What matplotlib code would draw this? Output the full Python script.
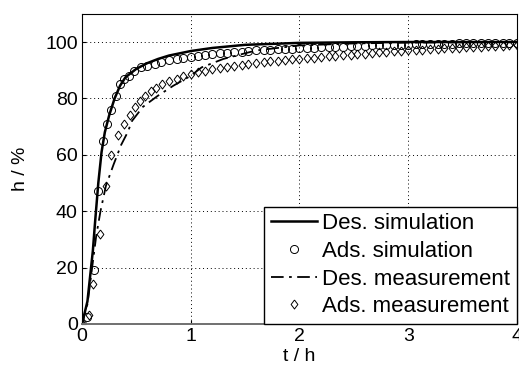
import matplotlib.pyplot as plt

plt.rcParams['font.family'] = ['Liberation Sans', 'DejaVu Sans']

# Des. simulation (line)
t_des_sim = [0, 0.05, 0.1, 0.12, 0.15, 0.18, 0.21, 0.25, 0.3, 0.35, 0.4, 0.5, 0.6, 0.7,
             0.8, 1.0, 1.2, 1.5, 2.0, 2.5, 3.0, 3.5, 4.0]
h_des_sim = [0, 8, 26, 36, 50, 61, 68, 74, 80, 84.5, 87.5, 90.5, 92.5, 94,
             95.2, 96.8, 97.9, 99.0, 99.7, 99.9, 100, 100, 100]

# Des. measurement (dash-dot line)
t_des_meas = [0, 0.05, 0.1, 0.13, 0.17, 0.22, 0.29, 0.36, 0.42, 0.46, 0.56, 0.7, 0.84,
              1.0, 1.1, 1.3, 1.6, 2.0, 2.5, 3.0, 4.0]
h_des_meas = [0, 7, 22, 31, 40, 49, 56.5, 63.5, 68, 72, 77, 81, 84.5,
              88, 91, 94, 97, 98.8, 99.5, 99.8, 100]

# Ads. simulation (circles)
t_ads_sim = [0, 0.05, 0.11, 0.15, 0.19, 0.23, 0.27, 0.31, 0.35, 0.39, 0.43, 0.48, 0.54,
             0.60, 0.67, 0.73, 0.80, 0.87, 0.93, 1.00, 1.07, 1.13, 1.20, 1.27, 1.33,
             1.40, 1.47, 1.53, 1.60, 1.67, 1.73, 1.80, 1.87, 1.93, 2.00, 2.07, 2.13,
             2.20, 2.27, 2.33, 2.40, 2.47, 2.53, 2.60, 2.67, 2.73, 2.80, 2.87, 2.93,
             3.00, 3.07, 3.13, 3.20, 3.27, 3.33, 3.40, 3.47, 3.53, 3.60, 3.67, 3.73,
             3.80, 3.87, 3.93, 4.00]
h_ads_sim = [0, 2.5, 19, 47, 65, 71, 76, 81, 85, 87, 88, 89.8, 91,
             91.5, 92.3, 93, 93.5, 94, 94.4, 94.8, 95.1, 95.4, 95.7, 96, 96.2,
             96.4, 96.6, 96.8, 97, 97.1, 97.3, 97.4, 97.5, 97.7, 97.8, 97.9, 98,
             98.1, 98.2, 98.3, 98.4, 98.5, 98.6, 98.7, 98.8, 98.9, 98.9, 99.0, 99.1,
             99.1, 99.2, 99.2, 99.3, 99.3, 99.4, 99.4, 99.5, 99.5, 99.6, 99.6, 99.6,
             99.7, 99.7, 99.7, 99.8]

# Ads. measurement (diamonds)
t_ads_meas = [0, 0.06, 0.1, 0.17, 0.22, 0.27, 0.33, 0.39, 0.44, 0.49, 0.53, 0.58, 0.63,
              0.68, 0.74, 0.80, 0.87, 0.93, 1.00, 1.07, 1.13, 1.20, 1.27, 1.33,
              1.40, 1.47, 1.53, 1.60, 1.67, 1.73, 1.80, 1.87, 1.93, 2.00, 2.07, 2.13,
              2.20, 2.27, 2.33, 2.40, 2.47, 2.53, 2.60, 2.67, 2.73, 2.80, 2.87, 2.93,
              3.00, 3.07, 3.13, 3.20, 3.27, 3.33, 3.40, 3.47, 3.53, 3.60, 3.67, 3.73,
              3.80, 3.87, 3.93, 4.00]
h_ads_meas = [0, 3, 14, 32, 49, 60, 67, 71, 74, 77, 79, 81, 82.5,
              83.8, 85, 86, 87, 87.8, 88.5, 89.2, 89.8, 90.3, 90.8, 91.2,
              91.6, 92, 92.3, 92.6, 92.9, 93.2, 93.4, 93.7, 93.9, 94.1, 94.3, 94.5,
              94.7, 94.9, 95.1, 95.3, 95.5, 95.7, 95.9, 96.1, 96.3, 96.5, 96.7, 96.9,
              97.0, 97.2, 97.3, 97.5, 97.6, 97.8, 97.9, 98.0, 98.1, 98.3, 98.4, 98.5,
              98.6, 98.7, 98.8, 98.9]

# matlab-style diamond (a bit taller than wide)
diamond = [(0, 1), (0.75, 0), (0, -1), (-0.75, 0), (0, 1)]

fig = plt.figure(figsize=(5.19, 3.74), dpi=100)
ax = fig.add_axes([0.158, 0.134, 0.838, 0.829])

ax.plot(t_des_sim, h_des_sim, color='black', lw=1.8, label='Des. simulation')
ax.plot(t_ads_sim, h_ads_sim, ls='none', marker='o', ms=5.8, mfc='none', mec='black',
        mew=0.7, label='Ads. simulation')
ax.plot(t_des_meas, h_des_meas, color='black', lw=1.3, ls=(0, (7, 3, 1.5, 3)),
        label='Des. measurement')
ax.plot(t_ads_meas, h_ads_meas, ls='none', marker=diamond, ms=6.5, mfc='none', mec='black',
        mew=0.7, label='Ads. measurement')

ax.set_xlim(0, 4)
ax.set_ylim(0, 110)
ax.set_xticks([0, 1, 2, 3, 4])
ax.set_yticks([0, 20, 40, 60, 80, 100])
ax.grid(True, color='black', ls=(0, (1, 3)), lw=0.7)
ax.tick_params(direction='in', length=3, labelsize=14, pad=3)
ax.spines['bottom'].set_color('#707070')
ax.spines['bottom'].set_linewidth(1.4)
ax.set_xlabel('t / h', fontsize=14, labelpad=2)
ax.set_ylabel('h / %', fontsize=14, labelpad=12)

leg = ax.legend(loc='lower right', borderaxespad=0, fancybox=False, edgecolor='black',
                framealpha=1, fontsize=16, handlelength=2.05, handletextpad=0.25,
                labelspacing=0.3, borderpad=0.3)
leg.get_frame().set_linewidth(1.0)

plt.savefig('out.png', dpi=100)
